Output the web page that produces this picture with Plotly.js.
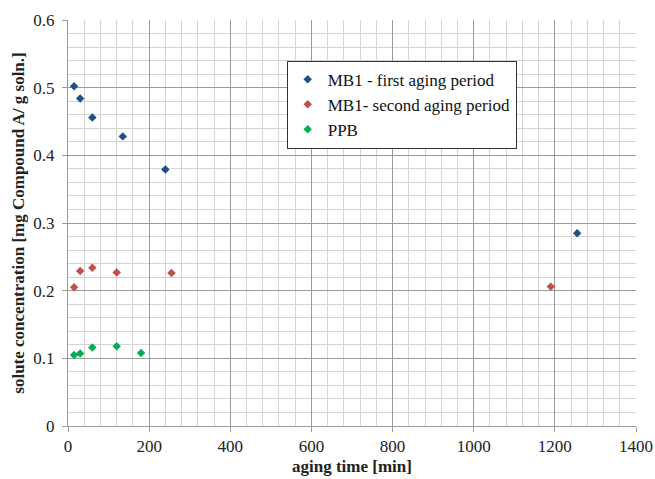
<!DOCTYPE html>
<html>
<head>
<meta charset="utf-8">
<script src="https://cdn.plot.ly/plotly-3.0.1.min.js"></script>
<style>html,body{margin:0;padding:0;background:#fff;}#chart{width:655px;height:479px;}</style>
</head>
<body>
<div id="chart"></div>
<script>
const seriesNames = ["MB1 - first aging period", "MB1- second aging period", "PPB"];
const firstX = [15, 30, 60, 135, 240, 1255];
const firstY = [0.502, 0.484, 0.456, 0.428, 0.379, 0.285];
const secondX = [15, 30, 60, 120, 255, 1190];
const secondY = [0.205, 0.229, 0.234, 0.227, 0.226, 0.206];
const ppbX = [15, 30, 60, 120, 180];
const ppbY = [0.105, 0.107, 0.116, 0.118, 0.108];
const colors = ["#1F4E8A", "#C0504D", "#00B050"];

const mk = (x, y, i) => ({
  x: x, y: y, name: seriesNames[i], type: "scatter", mode: "markers",
  marker: {symbol: "diamond", size: 6.5, color: colors[i]}
});

const data = [mk(firstX, firstY, 0), mk(secondX, secondY, 1), mk(ppbX, ppbY, 2)];

const fam = "'Liberation Serif', 'Times New Roman', serif";
const font = {family: fam, size: 17, color: "#222"};

const layout = {
  width: 655, height: 479,
  margin: {l: 68, r: 19, t: 20, b: 53},
  paper_bgcolor: "#fff", plot_bgcolor: "#fff",
  font: font,
  showlegend: true,
  legend: {
    x: 0.385, y: 0.9, xanchor: "left", yanchor: "top",
    bgcolor: "#fff", bordercolor: "#333", borderwidth: 1,
    font: {family: fam, size: 17, color: "#111"},
    itemwidth: 30,
    tracegroupgap: 0
  },
  xaxis: {
    range: [0, 1400], dtick: 200, tick0: 0,
    showgrid: true, gridcolor: "#9a9a9a", gridwidth: 1,
    minor: {dtick: 40, showgrid: true, gridcolor: "#d4d4d4", gridwidth: 1},
    ticks: "outside", ticklen: 5, tickcolor: "#9a9a9a",
    showline: true, linecolor: "#9a9a9a", mirror: false,
    zeroline: false,
    tickfont: {family: fam, size: 17, color: "#222"},
    title: {text: "<b>aging time [min]</b>", standoff: 4, font: {family: fam, size: 17, color: "#222"}}
  },
  yaxis: {
    range: [0, 0.6], dtick: 0.1, tick0: 0,
    showgrid: true, gridcolor: "#9a9a9a", gridwidth: 1,
    minor: {dtick: 0.02, showgrid: true, gridcolor: "#d4d4d4", gridwidth: 1},
    ticks: "outside", ticklen: 5, tickcolor: "#9a9a9a",
    ticklabelstandoff: 4,
    showline: true, linecolor: "#9a9a9a",
    zeroline: false,
    tickfont: {family: fam, size: 17, color: "#222"},
    title: {text: "<b>solute concentration [mg Compound A/ g soln.]</b>", standoff: 4, font: {family: fam, size: 17, color: "#222"}}
  }
};

Plotly.newPlot("chart", data, layout, {displayModeBar: false, staticPlot: true});
</script>
</body>
</html>
